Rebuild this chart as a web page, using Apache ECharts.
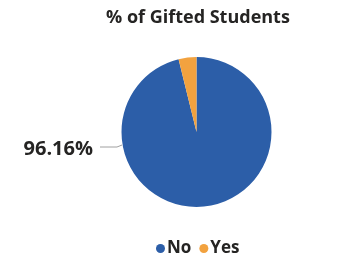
<!DOCTYPE html>
<html>
<head>
<meta charset="utf-8">
<script src="https://cdn.jsdelivr.net/npm/echarts@6/dist/echarts.min.js"></script>
<style>
  html, body { margin: 0; padding: 0; background: #fff; }
  #chart { width: 359px; height: 263px; }
</style>
</head>
<body>
<div id="chart"></div>
<script>
var categories = ['No', 'Yes'];
var values = [96.16, 3.84];
var colors = ['#2C5EA8', '#F2A23F'];

var chart = echarts.init(document.getElementById('chart'));

var pieData = [];
for (var i = 0; i < categories.length; i++) {
  pieData.push({
    name: categories[i],
    value: values[i],
    itemStyle: { color: colors[i] },
    label: { show: i === 0 },
    labelLine: { show: i === 0 }
  });
}

var option = {
  animation: false,
  title: {
    text: '% of Gifted Students',
    left: 101,
    top: 4,
    textStyle: { fontFamily: 'Open Sans', fontSize: 18, fontWeight: 'bold', color: '#252423' }
  },
  legend: {
    data: categories,
    top: 235,
    left: 151,
    icon: 'circle',
    itemWidth: 9,
    itemHeight: 9,
    itemGap: 8,
    textStyle: { fontFamily: 'Open Sans', fontSize: 17, fontWeight: 'bold', color: '#252423', padding: [0, 0, 0, -3] }
  },
  series: [{
    type: 'pie',
    center: [196.5, 132],
    radius: [0, 75],
    startAngle: 90,
    clockwise: true,
    silent: true,
    label: {
      formatter: function (p) { return p.value.toFixed(2) + '%'; },
      fontFamily: 'Open Sans',
      fontSize: 20,
      fontWeight: 'bold',
      color: '#252423'
    },
    labelLine: { lineStyle: { color: '#a0a0a0', width: 1 } },
    labelLayout: function (params) {
      return {
        x: 93,
        y: 149,
        align: 'right',
        verticalAlign: 'middle',
        labelLinePoints: [[122, 145], [117, 147], [100, 147]]
      };
    },
    data: pieData
  }]
};

chart.setOption(option);
</script>
</body>
</html>
